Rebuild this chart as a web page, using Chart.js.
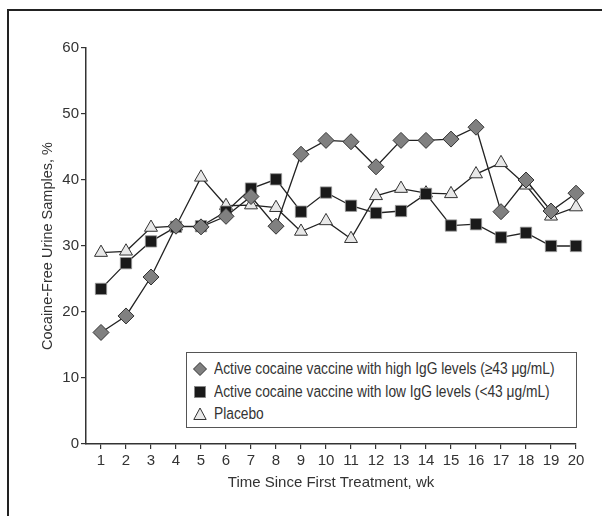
<!DOCTYPE html>
<html>
<head>
<meta charset="utf-8">
<script src="https://cdn.jsdelivr.net/npm/chart.js@4"></script>
<style>
  body { margin: 0; background: #fff; }
  #wrap { position: relative; width: 602px; height: 516px; }
  #legend {
    position: absolute; left: 186px; top: 352px; width: 389px; height: 74px;
    border: 1px solid #555; background: #fff;
    font-family: "Liberation Sans", Arial, sans-serif;
    font-size: 16.8px; color: #333;
  }
  .row { position: absolute; left: 6px; height: 20px; line-height: 20px; white-space: nowrap; }
  .row svg { position: absolute; left: 0; top: 3px; }
  .row span {
    position: absolute; left: 21px; top: 0;
    display: inline-block; transform: scaleX(0.82); transform-origin: 0 50%;
  }
</style>
</head>
<body>
<div id="wrap">
  <canvas id="chart" width="602" height="516"></canvas>
  <div id="legend"></div>
</div>
<script>
const chartCanvas = document.getElementById('chart');
const legendBox = document.getElementById('legend');
const fontName = '"Liberation Sans", Arial, sans-serif';

//--- Data ---//
const weeks = [1, 2, 3, 4, 5, 6, 7, 8, 9, 10, 11, 12, 13, 14, 15, 16, 17, 18, 19, 20];
const highIgG = [16.9, 19.4, 25.3, 33, 32.9, 34.5, 37.5, 33, 43.9, 46, 45.8, 42, 46, 46, 46.2, 48, 35.2, 40, 35.3, 38];
const lowIgG = [23.5, 27.4, 30.7, 32.9, 33, 35.2, 38.7, 40.1, 35.2, 38.1, 36.1, 35, 35.3, 37.9, 33.1, 33.3, 31.3, 32, 30, 30];
const placebo = [29, 29.2, 32.8, 33, 40.4, 36.1, 36.2, 35.8, 32.2, 33.8, 31.1, 37.6, 38.7, 38, 37.9, 40.9, 42.6, 39.2, 34.5, 35.9];
const yTicks = [0, 10, 20, 30, 40, 50, 60];
const seriesNames = [
    'Active cocaine vaccine with high IgG levels (\u226543 \u03bcg/mL)',
    'Active cocaine vaccine with low IgG levels (<43 \u03bcg/mL)',
    'Placebo'
];
//------------//

//--- Helpers ---//
function toPoints(values) {
    return weeks.map((w, i) => ({ x: w, y: values[i] }));
}
const markerSvg = [
    '<svg width="14" height="14"><polygon points="7,0.5 13.5,7 7,13.5 0.5,7" fill="#808080" stroke="#333" stroke-width="1"/></svg>',
    '<svg width="14" height="14"><rect x="1.5" y="1.5" width="11" height="11" fill="#1a1a1a" stroke="#888" stroke-width="0.8"/></svg>',
    '<svg width="14" height="14"><polygon points="7,1 13.2,12.5 0.8,12.5" fill="#e8e8e8" stroke="#333" stroke-width="1"/></svg>'
];
function buildLegend() {
    const tops = [6, 29, 51];
    legendBox.innerHTML = seriesNames.map((name, i) =>
        `<div class="row" style="top:${tops[i]}px">${markerSvg[i]}<span>${name}</span></div>`
    ).join('');
}
//--------------//

// outer frame (top and left rules)
const framePlugin = {
    id: 'frame',
    beforeDraw(chart) {
        const ctx = chart.ctx;
        ctx.save();
        ctx.strokeStyle = '#222';
        ctx.lineWidth = 2;
        ctx.beginPath();
        ctx.moveTo(8, 516);
        ctx.lineTo(8, 10);
        ctx.lineTo(602, 10);
        ctx.stroke();
        ctx.restore();
    }
};

const axisFont = { family: fontName, size: 15 };

new Chart(chartCanvas, {
    type: 'line',
    data: {
        datasets: [
            {
                label: seriesNames[0],
                data: toPoints(highIgG),
                borderColor: '#222', borderWidth: 1.3,
                pointStyle: 'rectRot', pointRadius: 8,
                pointBackgroundColor: '#808080', pointBorderColor: '#333', pointBorderWidth: 1,
                order: 1
            },
            {
                label: seriesNames[1],
                data: toPoints(lowIgG),
                borderColor: '#222', borderWidth: 1.3,
                pointStyle: 'rect', pointRadius: 8,
                pointBackgroundColor: '#1a1a1a', pointBorderColor: '#999', pointBorderWidth: 0.8,
                order: 2
            },
            {
                label: seriesNames[2],
                data: toPoints(placebo),
                borderColor: '#222', borderWidth: 1.3,
                pointStyle: 'triangle', pointRadius: 7.5,
                pointBackgroundColor: '#e8e8e8', pointBorderColor: '#333', pointBorderWidth: 1,
                order: 3
            }
        ]
    },
    options: {
        responsive: false,
        animation: false,
        clip: false,
        layout: { padding: { top: 48, right: 26, left: 0, bottom: 0 } },
        plugins: {
            legend: { display: false },
            tooltip: { enabled: false }
        },
        scales: {
            x: {
                type: 'linear',
                min: 0.4,
                max: 20,
                afterBuildTicks: scale => { scale.ticks = weeks.map(v => ({ value: v })); },
                afterFit: scale => { scale.height = 72; },
                grid: { drawOnChartArea: false, drawTicks: true, tickLength: 5, color: '#333', lineWidth: 1.2 },
                border: { color: '#333', width: 1.5 },
                ticks: { font: axisFont, color: '#333', padding: 3, maxRotation: 0, autoSkip: false },
                title: {
                    display: true,
                    text: 'Time Since First Treatment, wk',
                    font: { family: fontName, size: 15 },
                    color: '#333',
                    padding: { top: 0, bottom: 24 }
                }
            },
            y: {
                min: 0,
                max: 60,
                afterBuildTicks: scale => { scale.ticks = yTicks.map(v => ({ value: v })); },
                afterFit: scale => { scale.width = 86; },
                grid: { drawOnChartArea: false, drawTicks: true, tickLength: 5, color: '#333', lineWidth: 1.2 },
                border: { color: '#333', width: 1.5 },
                ticks: { font: axisFont, color: '#333', padding: 2 },
                title: {
                    display: true,
                    text: 'Cocaine-Free Urine Samples, %',
                    font: { family: fontName, size: 14.5 },
                    color: '#333',
                    padding: { top: 39, bottom: 0 }
                }
            }
        }
    },
    plugins: [framePlugin]
});

document.addEventListener('DOMContentLoaded', () => {
    buildLegend();
});
</script>
</body>
</html>
